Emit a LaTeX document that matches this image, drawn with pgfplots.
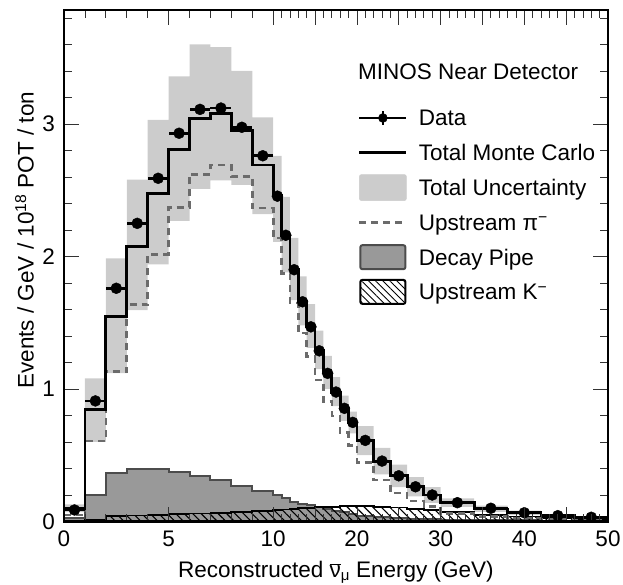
\documentclass[border=0pt]{standalone}
\usepackage{fontspec}
\setmainfont{Liberation Sans}
\usepackage{pgfplots}
\usepackage{pgfplotstable}
\pgfplotsset{compat=1.18}
\usepgfplotslibrary{fillbetween}
\usetikzlibrary{patterns.meta}
\definecolor{bandgray}{gray}{0.8}
\definecolor{dpfill}{gray}{0.6}
\definecolor{dpline}{gray}{0.3}
\definecolor{pigray}{gray}{0.42}
\newcommand{\fs}{\fontsize{22.5}{27}\selectfont}

% bin lower edges; last row closes the final bin
\pgfplotstableread{
x mc lo hi pi dp k
0 0.10 0.07 0.13 0.05 0.03 0.005
1 0.846 0.60 1.08 0.607 0.20 0.012
2 1.55 1.12 1.985 1.13 0.363 0.04
3 2.078 1.595 2.58 1.638 0.396 0.046
4 2.475 1.94 3.03 2.017 0.398 0.05
5 2.807 2.268 3.36 2.37 0.376 0.055
6 3.04 2.51 3.60 2.62 0.345 0.06
7 3.08 2.575 3.58 2.69 0.313 0.066
8 2.95 2.54 3.40 2.605 0.27 0.072
9 2.69 2.32 3.05 2.366 0.232 0.078
10 2.46 2.11 2.76 2.14 0.20 0.084
11 2.16 1.88 2.45 1.87 0.175 0.09
12 1.90 1.67 2.14 1.65 0.15 0.095
13 1.66 1.48 1.85 1.424 0.135 0.10
14 1.47 1.31 1.64 1.243 0.122 0.104
15 1.29 1.15 1.44 1.067 0.11 0.107
16 1.12 1.00 1.25 0.904 0.095 0.11
17 0.975 0.87 1.09 0.796 0.08 0.112
18 0.85 0.76 0.95 0.67 0.068 0.114
19 0.745 0.665 0.83 0.572 0.058 0.115
20 0.61 0.50 0.72 0.446 0.045 0.115
22 0.455 0.355 0.555 0.313 0.035 0.112
24 0.345 0.26 0.43 0.215 0.027 0.105
26 0.262 0.19 0.335 0.155 0.021 0.095
28 0.2 0.14 0.26 0.115 0.017 0.085
30 0.145 0.11 0.175 0.062 0.013 0.07
34 0.095 0.072 0.12 0.04 0.01 0.052
38 0.065 0.05 0.082 0.026 0.008 0.038
42 0.045 0.035 0.055 0.017 0.006 0.028
46 0.032 0.023 0.037 0.012 0.005 0.02
50 0.032 0.023 0.037 0.012 0.005 0.02
}\hist

% data: bin centre, value, half bin width (GeV)
\pgfplotstableread{
x y ex
0.5 0.087 0.5
1.5 0.91 0.5
2.5 1.76 0.5
3.5 2.25 0.5
4.5 2.59 0.5
5.5 2.93 0.5
6.5 3.11 0.5
7.5 3.12 0.5
8.5 2.975 0.5
9.5 2.76 0.5
10.5 2.455 0.5
11.5 2.16 0.5
12.5 1.90 0.5
13.5 1.658 0.5
14.5 1.469 0.5
15.5 1.288 0.5
16.5 1.118 0.5
17.5 0.977 0.5
18.5 0.854 0.5
19.5 0.748 0.5
21 0.612 1
23 0.456 1
25 0.345 1
27 0.262 1
29 0.2 1
32 0.142 2
36 0.1 2
40 0.066 2
44 0.044 2
48 0.032 2
}\datatab

\begin{document}
\fs
\begin{tikzpicture}
\begin{axis}[
  at={(64pt,62.5pt)}, anchor=south west,
  scale only axis, width=544pt, height=511.5pt,
  xmin=0, xmax=50, ymin=0, ymax=3.86,
  x coord trafo/.code={\pgfmathparse{(#1<=10) ? #1 : (10+(#1-10)*0.4)}},
  x coord inv trafo/.code={\pgfmathparse{(#1<=10) ? #1 : (10+(#1-10)/0.4)}},
  xtick={0,5,10,15,20,25,30,35,40,45,50},
  xticklabels={0,5,10,,20,,30,,40,,50},
  minor xtick={1,2,...,49},
  ytick={0,1,2,3},
  minor ytick={0.2,0.4,...,3.8},
  tick align=inside,
  major tick length=15pt, minor tick length=8pt,
  tick style={black!80, line width=0.8pt},
  axis line style={line width=2.4pt},
  axis on top,
  /pgf/number format/assume math mode=true,
  every tick label/.append style={font=\fs},
  xticklabel style={anchor=north, inner sep=0pt, yshift=-9.5pt},
  yticklabel style={anchor=east, inner sep=0pt, xshift=-9pt},
  xlabel={Reconstructed $\overline{\mbox{ν}}_{\mbox{\fontsize{15}{15}\selectfont μ}}$ Energy (GeV)},
  xlabel style={at={(axis description cs:0.5,0)}, anchor=base, yshift=-55.5pt, inner sep=0pt, font=\fs},
  ylabel={Events / GeV / 10\textsuperscript{18} POT / ton},
  ylabel style={at={(axis description cs:-0.055,0.55)}, anchor=south, inner sep=0pt, font=\fs},
  legend style={at={(0.5404,0.8143)}, anchor=north west, draw=none, fill=none,
    inner sep=0pt, outer sep=0pt, row sep=8.7pt, column sep=11pt, font=\fs,
    nodes={inner sep=0pt, text height=21pt, text depth=5pt}},
  legend cell align=left,
]
\addplot[name path=bhi, const plot, draw=none, forget plot] table[x=x,y=hi]{\hist};
\addplot[name path=blo, const plot, draw=none, forget plot] table[x=x,y=lo]{\hist};
\addplot[bandgray, forget plot] fill between[of=bhi and blo];
\addplot[const plot, fill=dpfill, draw=dpline, line width=2pt, forget plot] table[x=x,y=dp]{\hist} \closedcycle;
\addplot[const plot, pattern={Lines[angle=-45,distance=6pt,line width=1.1pt]}, pattern color=black, draw=black, line width=1.8pt, forget plot] table[x=x,y=k]{\hist} \closedcycle;
\addplot[const plot, pigray, line width=2.6pt, dash pattern=on 7pt off 5pt, forget plot] table[x=x,y=pi]{\hist};
\addplot[const plot, black, line width=2.8pt, forget plot] table[x=x,y=mc]{\hist};
% error bars are applied on the compressed (x>10) scale, so rescale the half widths there
\addplot[only marks, mark=*, mark size=5.5pt, black, forget plot,
  error bars/.cd, x dir=both, x explicit, error mark=none,
  error bar style={line width=2.6pt, black}]
  table[x=x,y=y,x error expr={(\thisrow{x}>10) ? 0.4*\thisrow{ex} : \thisrow{ex}}]{\datatab};

\addlegendimage{legend image code/.code={
  \draw[black, line width=2.5pt] (0pt,0pt) -- (47pt,0pt);
  \draw[black, line width=2.5pt] (23.5pt,-7pt) -- (23.5pt,7pt);
  \fill[black] (23.5pt,0pt) circle (4.5pt);}}
\addlegendentry{Data}
\addlegendimage{legend image code/.code={
  \draw[black, line width=2.8pt] (0pt,0pt) -- (47pt,0pt);}}
\addlegendentry{Total Monte Carlo}
\addlegendimage{legend image code/.code={
  \fill[bandgray, rounded corners=2pt] (0pt,-13pt) rectangle (47pt,13pt);}}
\addlegendentry{Total Uncertainty}
\addlegendimage{legend image code/.code={
  \draw[pigray, line width=2.6pt, dash pattern=on 7pt off 5pt] (0pt,0pt) -- (47pt,0pt);}}
\addlegendentry{Upstream π\textsuperscript{−}}
\addlegendimage{legend image code/.code={
  \draw[fill=dpfill, draw=dpline, line width=2pt, rounded corners=2pt] (1pt,-12pt) rectangle (46pt,12pt);}}
\addlegendentry{Decay Pipe}
\addlegendimage{legend image code/.code={
  \draw[pattern={Lines[angle=-45,distance=5pt,line width=0.9pt]}, pattern color=black, draw=black, line width=2pt, rounded corners=2pt] (1pt,-12pt) rectangle (46pt,12pt);}}
\addlegendentry{Upstream K\textsuperscript{−}}

\node[anchor=base west, inner sep=0pt, font=\fs] at (rel axis cs:0.5404,0.8632) {MINOS Near Detector};
\end{axis}
\pgfresetboundingbox
\useasboundingbox (0,0) rectangle (623pt,584pt);
\end{tikzpicture}
\end{document}
